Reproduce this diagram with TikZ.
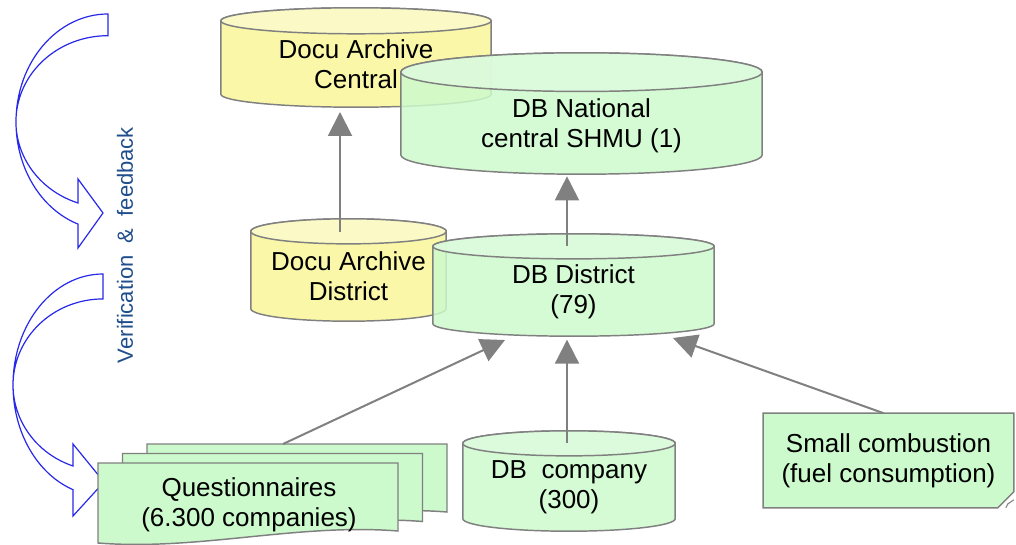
\documentclass[tikz,border=0pt]{standalone}
\usepackage{fontspec}
\setmainfont{Liberation Sans}
\usetikzlibrary{arrows.meta,positioning,shapes.misc,calc}

\definecolor{dbgreen}{RGB}{204,250,204}
\definecolor{lidgreen}{RGB}{222,251,222}
\definecolor{arcyellow}{RGB}{250,248,168}
\definecolor{lidyellow}{RGB}{251,250,198}
\definecolor{edgegray}{RGB}{128,128,128}
\definecolor{loopblue}{RGB}{40,40,235}
\definecolor{noteblue}{RGB}{31,78,140}

\newcommand{\boxfont}{\fontsize{19.5pt}{22.5pt}\selectfont}

\tikzset{
    lid/.store in=\lidry, lid=9.4pt,
    bodycol/.store in=\bodycol, bodycol=dbgreen,
    lidcol/.store in=\lidcol, lidcol=lidgreen,
    drumop/.store in=\drumop, drumop=0.85
}

\begin{document}
\begin{tikzpicture}[x=0.75pt, y=-0.75pt,
    db/.style={rectangle, inner sep=0pt, outer sep=0pt, path picture={
        \path[fill=\bodycol, fill opacity=\drumop, draw=edgegray, line width=1.1pt]
            let \p1=(path picture bounding box.north west),
                \p2=(path picture bounding box.south east),
                \n1={(\x2-\x1)/2-0.6pt} in
            (\x1+0.6pt,\y1-\lidry-0.6pt) -- (\x1+0.6pt,\y2+\lidry+0.6pt)
            arc[start angle=180, end angle=360, x radius=\n1, y radius=\lidry]
            -- (\x2-0.6pt,\y1-\lidry-0.6pt)
            arc[start angle=0, end angle=180, x radius=\n1, y radius=\lidry] -- cycle;
        \path[fill=\lidcol, fill opacity=\drumop, draw=edgegray, line width=1.1pt]
            let \p1=(path picture bounding box.north west),
                \p2=(path picture bounding box.south east),
                \n1={(\x2-\x1)/2-0.6pt} in
            ({(\x1+\x2)/2},\y1-\lidry-0.6pt) ellipse[x radius=\n1, y radius=\lidry];
    }},
    archive/.style={db, bodycol=arcyellow, lidcol=lidyellow, drumop=1},
    dbtext/.style={align=center, font=\boxfont, inner sep=0pt, text=black},
    doc/.style={draw=edgegray, line width=1.1pt, fill=dbgreen},
    note/.style={chamfered rectangle, chamfered rectangle corners=south east,
        chamfered rectangle xsep=6pt, chamfered rectangle ysep=6pt,
        draw=edgegray, line width=1.1pt, fill=dbgreen, align=center, font=\boxfont,
        inner sep=0pt, outer sep=0pt},
    link/.style={draw=edgegray, line width=1.5pt, -{Triangle[length=18pt,width=18pt]}},
    loop/.style={draw=loopblue, line width=0.9pt}
]
\useasboundingbox (0,0) rectangle (1016,545);

% feedback loops
\draw[loop] (108,14) arc[start angle=90, end angle=251, x radius=69pt, y radius=81pt]
    -- (78,248) -- (103,213) -- (78,179) -- (78,203)
    arc[start angle=251, end angle=90, x radius=69pt, y radius=64.5pt] -- cycle;
\draw[loop] (103,274) arc[start angle=90, end angle=250.5, x radius=67.5pt, y radius=83.25pt]
    -- (73,516) -- (104,482) -- (73,444) -- (73,466)
    arc[start angle=250.5, end angle=90, x radius=67.5pt, y radius=64.5pt] -- cycle;
\node[rotate=90, text=noteblue, font=\fontsize{16.5pt}{20pt}\selectfont] (loopnote) at (125,245)
    {Verification\ \ \&\ \ feedback};

% databases
\node[archive, lid=9.75pt, minimum width=204pt, minimum height=75.75pt,
    label={[dbtext, name=cenarchtext, yshift=-5pt]center:Docu Archive\\Central}]
    (cenarch) at (356,57.5) {};
\node[db, lid=14.5pt, minimum width=272.25pt, minimum height=92.25pt,
    label={[dbtext, name=nationaltext, yshift=-9pt]center:DB National\\central SHMU (1)}]
    (national) at (581.5,113.5) {};
\node[archive, minimum width=147.75pt, minimum height=78pt,
    label={[dbtext, name=distarchtext, yshift=-5pt]center:Docu Archive\\District}]
    (distarch) at (348.5,270) {};
\node[db, minimum width=212.25pt, minimum height=78pt,
    label={[dbtext, name=disttext, yshift=-5pt]center:DB District\\(79)}]
    (dist) at (573.5,285) {};

% questionnaires
\foreach \dx/\dy in {49/-19, 24.5/-9.5, 0/0}
    \draw[doc, shift={(98+\dx,463+\dy)}] (0,0) -- (300,0) -- (300,68)
        .. controls (200,60) and (100,88) .. (0,80) -- cycle;
\node[dbtext] (quest) at (249,505) {Questionnaires\\(6.300 companies)};
\coordinate (qback) at (283,444);

\node[db, minimum width=160.5pt, minimum height=76.5pt,
    label={[dbtext, name=companytext, yshift=-5pt]center:DB\ \ company\\(300)}]
    (company) at (569,481) {};

\node[note, minimum width=188pt, minimum height=71pt] (small) at (888.5,460.5)
    {Small combustion\\(fuel consumption)};
\coordinate (smallcorner) at (small.south -| small.east);
\draw[draw=edgegray, line width=0.8pt, fill=lidgreen]
    ($(smallcorner)+(-8,0)$) -- ($(smallcorner)+(-6,-4)$) -- ($(smallcorner)+(0,-8)$);

% links
\draw[link, shorten >=3pt] ($(distarch.north)+(-8.5,14)$) -- ($(distarch.north |- cenarch.south)+(-8.5,0)$);
\draw[link, shorten >=1pt] ($(dist.north)+(-6.5,13)$) -- ($(dist.north |- national.south)+(-6.5,0)$);
\draw[link] (qback) -- ($(dist.south)+(-68.5,3)$);
\draw[link, shorten >=2pt] ($(company.north)+(-2,13)$) -- ($(company.north |- dist.south)+(-2,0)$);
\draw[link] ($(small.north)+(-5,0)$) -- ($(dist.south)+(99.5,1)$);

\end{tikzpicture}
\end{document}
